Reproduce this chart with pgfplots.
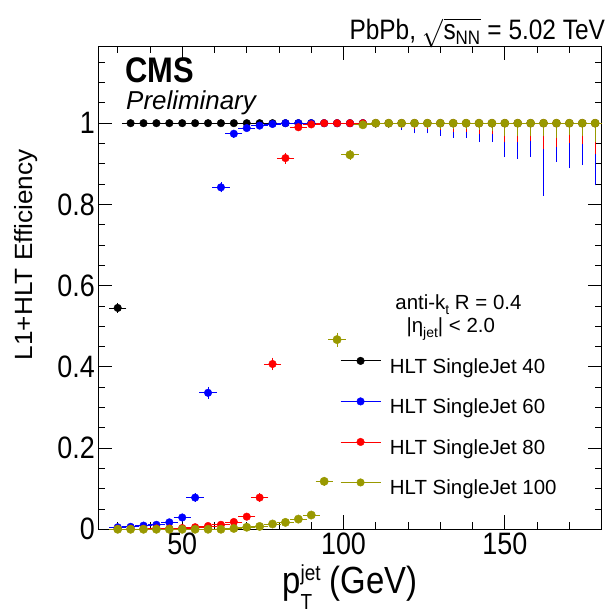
\documentclass[border=0pt]{standalone}
\usepackage{pgfplots}
\pgfplotsset{compat=1.18}
\usepackage{pgfplotstable}
\usepackage{graphicx}
\usepackage{fontspec}
\setmainfont{Liberation Sans}
\definecolor{olv}{RGB}{153,153,0}
\newcommand\fs[1]{\fontsize{#1}{#1}\selectfont}
\newcommand\vs[1]{\scalebox{1}[1.15]{#1}}

\pgfplotstableread{
x y ex ep em
30 0.545 2 0.007 0.007
34 1 2 0 0.002
38 1 2 0 0
42 1 2 0 0
46 1 2 0 0
50 1 2 0 0
54 1 2 0 0
58 1 2 0 0
62 1 2 0 0
66 1 2 0 0
70 1 2 0 0
74 1 2 0 0
78 1 2 0 0
82 1 2 0 0
86 1 2 0 0
90 1 2 0 0
94 1 2 0 0
98 1 2 0 0
102 1 2 0 0
106 1 2 0 0
110 1 2 0 0
114 1 2 0 0
118 1 2 0 0
122 1 2 0 0
126 1 2 0 0
130 1 2 0 0
134 1 2 0 0
138 1 2 0 0
142 1 2 0 0
146 1 2 0 0
150 1 2 0 0
154 1 2 0 0
158 1 2 0 0
162 1 2 0 0
166 1 2 0 0
170 1 2 0 0
174 1 2 0 0
178 1 2 0 0
}\tblack

\pgfplotstableread{
x y ex ep em
30 0.005 2 0.002 0.002
34 0.006 2 0.002 0.002
38 0.009 2 0.002 0.002
42 0.011 2 0.003 0.003
46 0.017 2 0.003 0.003
50 0.029 2 0.004 0.004
54 0.078 2 0.005 0.005
58 0.336 2 0.009 0.009
62 0.842 2 0.007 0.007
66 0.974 2 0.004 0.004
70 0.988 2 0.003 0.003
74 0.994 2 0.002 0.002
78 0.998 2 0.001 0.001
82 1 2 0 0.001
86 1 2 0 0.002
90 1 2 0 0.002
94 1 2 0 0.003
98 1 2 0 0.003
102 1 2 0 0.004
106 1 2 0 0.005
110 1 2 0 0.006
114 1 2 0 0.007
118 1 2 0 0.012
122 1 2 0 0.020
126 1 2 0 0.020
130 1 2 0 0.025
134 1 2 0 0.030
138 1 2 0 0.030
142 1 2 0 0.041
146 1 2 0 0.041
150 1 2 0 0.078
154 1 2 0 0.082
158 1 2 0 0.078
162 1 2 0 0.173
166 1 2 0 0.090
170 1 2 0 0.105
174 1 2 0 0.098
178 1 2 0 0.148
}\tblue

\pgfplotstableread{
x y ex ep em
30 0.001 2 0.001 0.001
34 0.001 2 0.001 0.001
38 0.001 2 0.001 0.001
42 0.002 2 0.001 0.001
46 0.002 2 0.001 0.001
50 0.003 2 0.001 0.001
54 0.005 2 0.002 0.002
58 0.008 2 0.002 0.002
62 0.011 2 0.002 0.002
66 0.018 2 0.003 0.003
70 0.031 2 0.004 0.004
74 0.078 2 0.005 0.005
78 0.407 2 0.010 0.010
82 0.914 2 0.008 0.008
86 0.990 2 0.004 0.004
90 0.997 2 0.002 0.002
94 1 2 0 0.001
98 1 2 0 0.002
102 1 2 0 0.002
106 1 2 0 0.003
110 1 2 0 0.004
114 1 2 0 0.005
118 1 2 0 0.006
122 1 2 0 0.008
126 1 2 0 0.008
130 1 2 0 0.012
134 1 2 0 0.016
138 1 2 0 0.016
142 1 2 0 0.022
146 1 2 0 0.022
150 1 2 0 0.042
154 1 2 0 0.042
158 1 2 0 0.038
162 1 2 0 0.058
166 1 2 0 0.054
170 1 2 0 0.043
174 1 2 0 0.047
178 1 2 0 0.070
}\tred

\pgfplotstableread{
x y ex ep em
30 0.000 2 0.001 0
34 0.000 2 0.001 0
38 0.000 2 0.001 0
42 0.000 2 0.001 0
46 0.000 2 0.001 0
50 0.000 2 0.001 0
54 0.000 2 0.001 0
58 0.000 2 0.001 0
62 0.000 2 0.001 0
66 0.002 2 0.001 0.001
70 0.005 2 0.002 0.002
74 0.007 2 0.002 0.002
78 0.013 2 0.002 0.002
82 0.017 2 0.003 0.003
86 0.025 2 0.003 0.003
90 0.035 2 0.003 0.003
94 0.118 2 0.006 0.006
98 0.467 2 0.012 0.012
102 0.922 2 0.007 0.007
106 0.996 2 0.002 0.002
110 1 2 0 0.002
114 1 2 0 0.003
118 1 2 0 0.004
122 1 2 0 0.005
126 1 2 0 0.006
130 1 2 0 0.008
134 1 2 0 0.008
138 1 2 0 0.010
142 1 2 0 0.012
146 1 2 0 0.015
150 1 2 0 0.027
154 1 2 0 0.027
158 1 2 0 0.025
162 1 2 0 0.027
166 1 2 0 0.030
170 1 2 0 0.024
174 1 2 0 0.025
178 1 2 0 0.042
}\tolive

\begin{document}
\begin{tikzpicture}
\begin{axis}[
  name=ax,
  scale only axis,
  width=503bp, height=483bp,
  xmin=24, xmax=180, ymin=0, ymax=1.19,
  xtick={50,100,150},
  xticklabels={\vs{50},\vs{100},\vs{150}},
  minor xtick={30,40,60,70,80,90,110,120,130,140,160,170},
  ytick={0,0.2,0.4,0.6,0.8,1},
  yticklabels={\vs{0},\vs{0.2},\vs{0.4},\vs{0.6},\vs{0.8},\vs{1}},
  minor ytick={0.05,0.1,0.15,0.25,0.3,0.35,0.45,0.5,0.55,0.65,0.7,0.75,0.85,0.9,0.95,1.05,1.1,1.15},
  major tick length=14bp, minor tick length=7bp,
  tick style={black, line width=0.8bp},
  axis line style={line width=0.8bp},
  /pgf/number format/assume math mode=true,
  ticklabel style={font=\fs{27}},
  xlabel={\vs{p\rlap{\raisebox{-14bp}{\fs{19}T}}\raisebox{11bp}{\fs{19}jet} (GeV)}},
  xlabel style={at={(axis description cs:0.5,-0.132)}, anchor=base, font=\fs{33}, inner sep=0pt},
  ylabel={\scalebox{1.05}[1]{L1+HLT Efficiency}},
  ylabel style={at={(axis description cs:-0.131,0.568)}, anchor=base, font=\fs{25}, inner sep=0pt},
  every axis title shift=0pt,
  title={\vs{PbPb, $\sqrt{\mbox{s}_{\mbox{\fs{17}NN}}}$ = 5.02 TeV}},
  title style={at={(axis description cs:1.007,1.013)}, anchor=base east, font=\fs{24.5}, inner sep=0pt},
  legend image code/.code={\draw[#1, line width=0.8bp] (0bp,7bp) -- (40bp,7bp); \fill[#1] (20bp,7bp) circle (3.8bp);},
  legend style={at={(rel axis cs:0.4805,0.2097)}, anchor=west, draw=none, fill=none, inner sep=0pt, outer sep=0pt,
    font=\fs{20.5}, row sep=20bp, nodes={inner sep=0pt, text height=15bp, text depth=4bp},
    /tikz/every odd column/.append style={column sep=9bp}},
  legend cell align=left,
]
\addplot[forget plot, only marks, mark=*, mark size=3.8bp, black, error bars/.cd, x dir=both, x explicit, y dir=both, y explicit, error bar style={line width=0.7bp}, error mark options={mark size=2.2bp, line width=0.7bp}] table[x=x,y=y,x error=ex,y error plus=ep,y error minus=em]{\tblack};
\addplot[forget plot, only marks, mark=*, mark size=3.8bp, blue, error bars/.cd, x dir=both, x explicit, y dir=both, y explicit, error bar style={line width=0.7bp}, error mark options={mark size=2.2bp, line width=0.7bp}] table[x=x,y=y,x error=ex,y error plus=ep,y error minus=em]{\tblue};
\addplot[forget plot, only marks, mark=*, mark size=3.8bp, red, error bars/.cd, x dir=both, x explicit, y dir=both, y explicit, error bar style={line width=0.7bp}, error mark options={mark size=2.2bp, line width=0.7bp}] table[x=x,y=y,x error=ex,y error plus=ep,y error minus=em]{\tred};
\addplot[forget plot, only marks, mark=*, mark size=4.2bp, olv, error bars/.cd, x dir=both, x explicit, y dir=both, y explicit, error bar style={line width=0.7bp}, error mark options={mark size=2.2bp, line width=0.7bp}] table[x=x,y=y,x error=ex,y error plus=ep,y error minus=em]{\tolive};
\addlegendimage{black}\addlegendentry{HLT SingleJet 40}
\addlegendimage{blue}\addlegendentry{HLT SingleJet 60}
\addlegendimage{red}\addlegendentry{HLT SingleJet 80}
\addlegendimage{olv}\addlegendentry{HLT SingleJet 100}
\node[anchor=base west, inner sep=0pt, font=\fs{31}\bfseries] at (rel axis cs:0.053,0.924) {\vs{CMS}};
\node[anchor=base west, inner sep=0pt, font=\fs{26}\itshape] at (rel axis cs:0.055,0.868) {Preliminary};
\node[anchor=base west, inner sep=0pt, font=\fs{20.5}] at (rel axis cs:0.59,0.4547) {anti-k\raisebox{-5bp}{\fs{14}t} R = 0.4};
\node[anchor=base west, inner sep=0pt, font=\fs{20.5}] at (rel axis cs:0.612,0.4064) {|η\raisebox{-5bp}{\fs{14}jet}| < 2.0};
\end{axis}
\pgfresetboundingbox
\path[use as bounding box] ([shift={(-98.3bp,-80.7bp)}]ax.south west) rectangle ([shift={(6.5bp,46bp)}]ax.north east);
\end{tikzpicture}
\end{document}
